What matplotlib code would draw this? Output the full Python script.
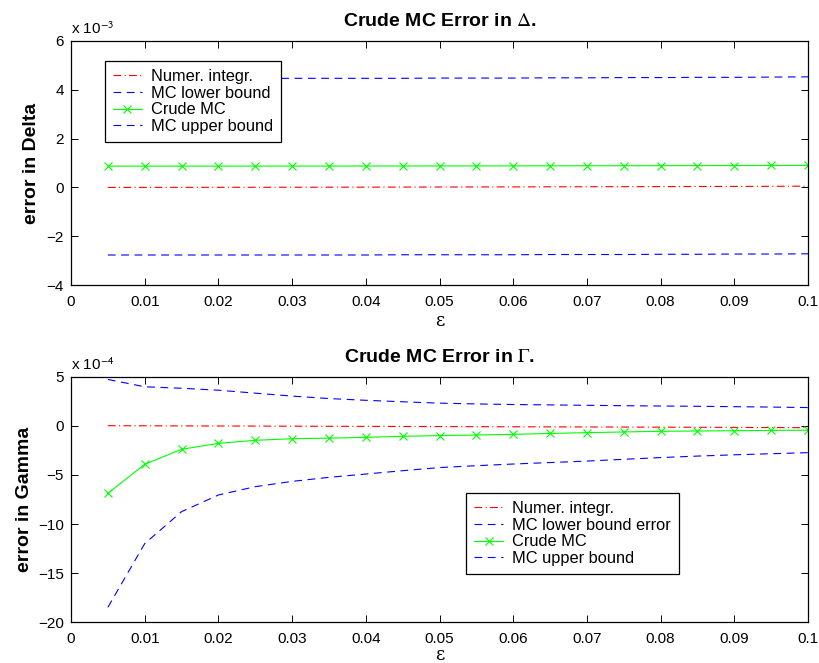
import matplotlib
matplotlib.use('Agg')
import matplotlib.pyplot as plt
from matplotlib.ticker import FuncFormatter

plt.rcParams['font.family'] = ['Liberation Sans', 'DejaVu Sans']
plt.rcParams['mathtext.fontset'] = 'stix'
plt.rcParams['axes.unicode_minus'] = True

eps = [0.005, 0.010, 0.015, 0.020, 0.025, 0.030, 0.035, 0.040, 0.045, 0.050,
       0.055, 0.060, 0.065, 0.070, 0.075, 0.080, 0.085, 0.090, 0.095, 0.100]

# Delta errors, in units of 1e-3
delta_numer = [0.000, 0.001, 0.002, 0.004, 0.005, 0.007, 0.009, 0.011, 0.013, 0.016,
               0.018, 0.021, 0.024, 0.027, 0.030, 0.034, 0.037, 0.041, 0.045, 0.050]
delta_upper = [4.46, 4.46, 4.46, 4.46, 4.46, 4.47, 4.47, 4.47, 4.47, 4.48,
               4.48, 4.48, 4.49, 4.49, 4.50, 4.50, 4.51, 4.51, 4.52, 4.53]
delta_crude = [0.870, 0.871, 0.872, 0.872, 0.873, 0.874, 0.875, 0.876, 0.877, 0.879,
               0.880, 0.882, 0.884, 0.886, 0.888, 0.890, 0.893, 0.896, 0.899, 0.902]
delta_lower = [-2.77, -2.77, -2.77, -2.77, -2.77, -2.77, -2.77, -2.77, -2.76, -2.76,
               -2.76, -2.76, -2.75, -2.75, -2.75, -2.74, -2.74, -2.73, -2.73, -2.72]

# Gamma errors, in units of 1e-4
gamma_numer = [0.03, 0.02, 0.01, 0.00, -0.01, -0.02, -0.03, -0.04, -0.05, -0.06,
               -0.07, -0.08, -0.09, -0.10, -0.11, -0.12, -0.13, -0.14, -0.16, -0.17]
gamma_upper = [4.75, 4.00, 3.85, 3.65, 3.35, 3.05, 2.80, 2.62, 2.47, 2.33,
               2.25, 2.19, 2.15, 2.11, 2.07, 2.04, 2.01, 1.97, 1.93, 1.88]
gamma_crude = [-6.87, -3.91, -2.38, -1.77, -1.46, -1.30, -1.24, -1.16, -1.05, -0.98,
               -0.92, -0.85, -0.76, -0.68, -0.61, -0.54, -0.51, -0.48, -0.45, -0.43]
gamma_lower = [-18.5, -12.0, -8.74, -7.04, -6.19, -5.65, -5.24, -4.90, -4.56, -4.24,
               -4.05, -3.88, -3.73, -3.58, -3.40, -3.22, -3.07, -2.94, -2.83, -2.72]

xticks = [0, 0.01, 0.02, 0.03, 0.04, 0.05, 0.06, 0.07, 0.08, 0.09, 0.1]


def style_axes(ax, yticks, ylim):
    ax.set_xlim(0, 0.1)
    ax.set_ylim(*ylim)
    ax.set_xticks(xticks)
    ax.set_yticks(yticks)
    ax.xaxis.set_major_formatter(FuncFormatter(lambda v, p: '0' if v == 0 else f'{v:g}'))
    ax.yaxis.set_major_formatter(FuncFormatter(lambda v, p: f'{v:g}'.replace('-', '\u2212')))
    ax.tick_params(direction='in', top=True, right=True, length=5, width=0.7, labelsize=11)
    ax.tick_params(axis='x', pad=7.5)
    ax.tick_params(axis='y', pad=5)
    for s in ax.spines.values():
        s.set_linewidth(0.9)


def add_legend(ax, anchor):
    leg = ax.legend(loc='upper left', bbox_to_anchor=anchor, fontsize=11.8, handlelength=1.75,
                    fancybox=False, edgecolor='black', framealpha=1, borderpad=0.5,
                    labelspacing=0.1, handletextpad=0.55, borderaxespad=0)
    leg.get_frame().set_linewidth(0.9)
    return leg


fig = plt.figure(figsize=(8.2, 6.63), dpi=100)
ax1 = fig.add_axes([0.0866, 0.5701, 0.8988, 0.3681])
ax2 = fig.add_axes([0.0866, 0.0618, 0.8988, 0.3696])

lw = 0.8
dash = (0, (7, 5))
dashdot = (0, (7, 3, 1, 3))

ax1.plot(eps, delta_numer, color='#ff0000', lw=lw, linestyle=dashdot, label='Numer. integr.')
ax1.plot(eps, delta_upper, color='#0000ff', lw=lw, linestyle=dash, label='MC lower bound')
ax1.plot(eps, delta_crude, color='#00ff00', lw=lw, marker='x', ms=6, mew=0.8, label='Crude MC')
ax1.plot(eps, delta_lower, color='#0000ff', lw=lw, linestyle=dash, label='MC upper bound')
style_axes(ax1, [-4, -2, 0, 2, 4, 6], (-4, 6))
ax1.set_title(r'Crude MC Error in $\Delta$.', fontsize=14, fontweight='bold', pad=11)
ax1.set_ylabel('error in Delta', fontsize=14, fontweight='bold', labelpad=4.5)
ax1.set_xlabel('ε', fontsize=13, family='DejaVu Serif', labelpad=2)
ax1.text(0.0, 1.015, r'x 10$^{\mathsf{-3}}$', transform=ax1.transAxes, fontsize=11, ha='left', va='bottom')
add_legend(ax1, (0.046, 0.918))

ax2.plot(eps, gamma_numer, color='#ff0000', lw=lw, linestyle=dashdot, label='Numer. integr.')
ax2.plot(eps, gamma_upper, color='#0000ff', lw=lw, linestyle=dash, label='MC lower bound error')
ax2.plot(eps, gamma_crude, color='#00ff00', lw=lw, marker='x', ms=6, mew=0.8, label='Crude MC')
ax2.plot(eps, gamma_lower, color='#0000ff', lw=lw, linestyle=dash, label='MC upper bound')
style_axes(ax2, [-20, -15, -10, -5, 0, 5], (-20, 5))
ax2.set_title(r'Crude MC Error in $\Gamma$.', fontsize=14, fontweight='bold', pad=11)
ax2.set_ylabel('error in Gamma', fontsize=14, fontweight='bold', labelpad=4)
ax2.set_xlabel('ε', fontsize=13, family='DejaVu Serif', labelpad=0)
ax2.text(0.0, 1.015, r'x 10$^{\mathsf{-4}}$', transform=ax2.transAxes, fontsize=11, ha='left', va='bottom')
add_legend(ax2, (0.536, 0.527))

fig.savefig('out.png', dpi=100, facecolor='white')
